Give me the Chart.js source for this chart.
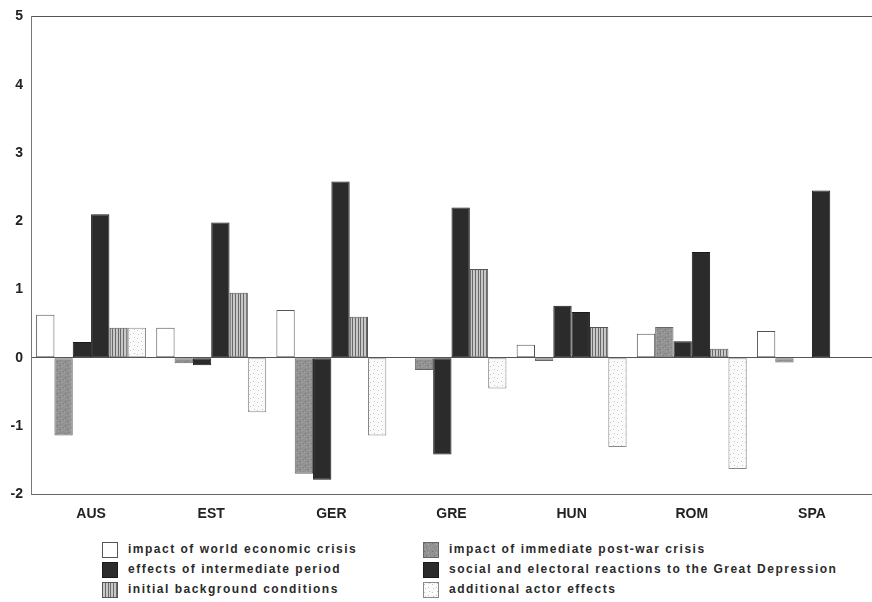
<!DOCTYPE html>
<html>
<head>
<meta charset="utf-8">
<script src="https://cdn.jsdelivr.net/npm/chart.js@4/dist/chart.umd.min.js"></script>
<style>
  html,body{margin:0;padding:0;background:#fff;}
  #wrap{position:relative;width:872px;height:602px;}
  #chartBox{position:absolute;left:0;top:0;width:872px;height:530px;}
  .leg{position:absolute;font-family:"Liberation Sans",Arial,sans-serif;font-size:12px;font-weight:bold;letter-spacing:1.5px;color:#2a2a2a;white-space:nowrap;}
  .leg canvas{position:absolute;left:0;top:0;}
  .leg span{position:absolute;top:0;line-height:15px;}
</style>
</head>
<body>
<div id="wrap">
  <div id="chartBox"><canvas id="c"></canvas></div>
  <div id="legend"></div>
</div>
<script>
const categories = ["AUS","EST","GER","GRE","HUN","ROM","SPA"];
const seriesNames = [
  "impact of world economic crisis",
  "impact of immediate post-war crisis",
  "effects of intermediate period",
  "social and electoral reactions to the Great Depression",
  "initial background conditions",
  "additional actor effects"
];
const worldCrisis    = [0.63, 0.44, 0.70, 0.00, 0.19, 0.35, 0.39];
const postWarCrisis  = [-1.14, -0.08, -1.70, -0.18, -0.05, 0.45, -0.07];
const intermediate   = [0.23, -0.11, -1.79, -1.42, 0.76, 0.24, 0.00];
const socialElectoral= [2.10, 1.98, 2.58, 2.20, 0.67, 1.55, 2.45];
const background     = [0.44, 0.95, 0.60, 1.30, 0.45, 0.13, 0.00];
const actorEffects   = [0.44, -0.80, -1.14, -0.45, -1.31, -1.63, 0.00];
const yTicks = [-2,-1,0,1,2,3,4,5];

function makePattern(kind){
  const p = document.createElement('canvas');
  const n = 8; p.width = n; p.height = n;
  const g = p.getContext('2d');
  if(kind==='speckle'){
    g.fillStyle = '#929292'; g.fillRect(0,0,n,n);
    const dots=[[1,1,'#707070'],[5,2,'#b0b0b0'],[3,5,'#787878'],[6,6,'#a8a8a8'],[0,4,'#a2a2a2'],[4,0,'#808080'],[7,3,'#848484'],[2,7,'#a0a0a0']];
    dots.forEach(d=>{g.fillStyle=d[2];g.fillRect(d[0],d[1],1,1);});
  } else if(kind==='stripes'){
    g.fillStyle = '#c8c8c8'; g.fillRect(0,0,n,n);
    g.fillStyle = '#6a6a6a';
    g.fillRect(0,0,1,n); g.fillRect(3,0,1,n); g.fillRect(6,0,1,n);
  } else if(kind==='dots'){
    g.fillStyle = '#fafafa'; g.fillRect(0,0,n,n);
    const dots=[[1,2],[5,5],[6,1],[2,6]];
    g.fillStyle = '#c4c4c4';
    dots.forEach(d=>g.fillRect(d[0],d[1],1,1));
  }
  return g.createPattern(p,'repeat');
}
const fills = ['#ffffff', makePattern('speckle'), '#2b2b2b', '#2b2b2b', makePattern('stripes'), makePattern('dots')];
const borders = ['#555555','#666666','#1a1a1a','#1a1a1a','#555555','#888888'];
const allValues = [worldCrisis, postWarCrisis, intermediate, socialElectoral, background, actorEffects];

const datasets = allValues.map((vals,i)=>({
  label: seriesNames[i],
  data: vals,
  backgroundColor: fills[i],
  borderColor: borders[i],
  borderWidth: 1,
  borderSkipped: false,
  categoryPercentage: 0.915,
  barPercentage: 1.0
}));

new Chart(document.getElementById('c'), {
  type: 'bar',
  data: { labels: categories, datasets },
  options: {
    responsive: true,
    maintainAspectRatio: false,
    animation: false,
    layout: { padding: { top: 4, right: 0, bottom: 3, left: 0 } },
    plugins: { legend: { display: false }, tooltip: { enabled: false } },
    scales: {
      x: {
        grid: { display: false },
        border: { display: true, color: '#666', width: 1 },
        ticks: { color: '#222', font: { family: '"Liberation Sans", Arial, sans-serif', size: 14, weight: 'bold' }, padding: 4 }
      },
      y: {
        min: -2, max: 5,
        afterBuildTicks: (s) => { s.ticks = yTicks.map(v => ({ value: v })); },
        afterFit: (s) => { s.width = 31; },
        grid: {
          drawTicks: false,
          color: (ctx) => (ctx.tick && (ctx.tick.value === 5 || ctx.tick.value === 0)) ? '#555' : 'rgba(0,0,0,0)',
          lineWidth: 1
        },
        border: { display: true, color: '#777', width: 1 },
        ticks: { color: '#222', font: { family: '"Liberation Sans", Arial, sans-serif', size: 14, weight: 'bold' }, padding: 8 }
      }
    }
  }
});

// legend (HTML text, swatches use same fills)
const legendPos = [
  [102, 542], [423, 542],
  [102, 562], [423, 562],
  [102, 582], [423, 582]
];
const legendOrder = [0,1,2,3,4,5];
const legendEl = document.getElementById('legend');
legendOrder.forEach((si, k) => {
  const [x, y] = legendPos[k];
  const d = document.createElement('div');
  d.className = 'leg';
  d.style.left = x + 'px'; d.style.top = y + 'px';
  const sw = document.createElement('canvas');
  sw.width = 16; sw.height = 16;
  const g = sw.getContext('2d');
  g.fillStyle = fills[si]; g.fillRect(0.5,0.5,15,15);
  g.strokeStyle = borders[si]; g.lineWidth = 1; g.strokeRect(0.5,0.5,15,15);
  d.appendChild(sw);
  const t = document.createElement('span');
  t.style.left = '26px';
  t.textContent = seriesNames[si];
  d.appendChild(t);
  legendEl.appendChild(d);
});
</script>
</body>
</html>
